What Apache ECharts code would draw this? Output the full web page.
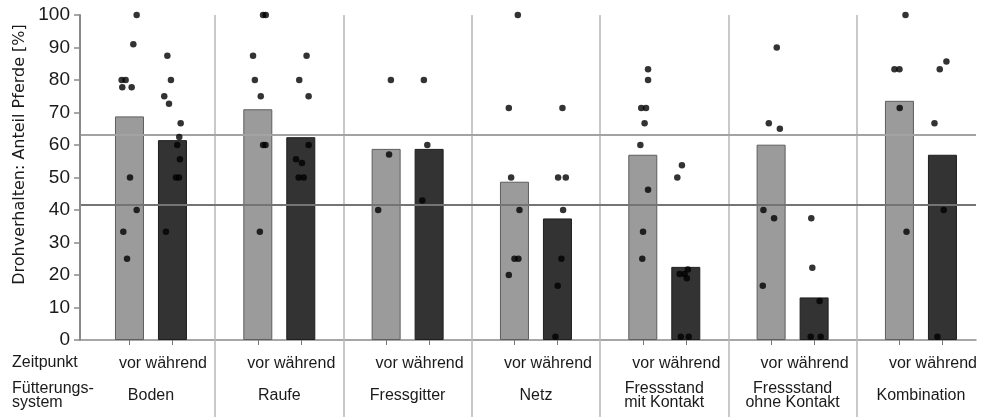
<!DOCTYPE html>
<html>
<head>
<meta charset="utf-8">
<script src="https://cdn.jsdelivr.net/npm/echarts@6/dist/echarts.min.js"></script>
<style>
  html, body { margin: 0; padding: 0; background: #ffffff; }
  #chart { width: 983px; height: 417px; }
</style>
</head>
<body>
<div id="chart"></div>
<script>
// Feeding systems (Fütterungssystem) and observation periods (Zeitpunkt)
const systems = ['Boden', 'Raufe', 'Fressgitter', 'Netz', 'Fressstand\nmit Kontakt', 'Fressstand\nohne Kontakt', 'Kombination'];
const periods = ['vor', 'während'];

// Mean share of horses showing threatening behaviour [%]
const meanVor      = [68.8, 71.0, 58.8, 48.7, 57.0, 60.1, 73.6];
const meanWaehrend = [61.5, 62.4, 58.8, 37.4, 22.5, 13.1, 57.0];

// Overall reference levels [%]
const overallLevels = [63.1, 41.7];

// Single stables, share of horses [%]
const stablesVor = [
  [100, 91, 80, 80, 77.8, 77.8, 50, 40, 33.3, 25],
  [100, 100, 87.5, 80, 75, 60, 60, 33.3],
  [80, 57.1, 40],
  [100, 71.4, 50, 40, 25, 25, 20],
  [83.3, 80, 71.4, 71.4, 66.7, 60, 46.2, 33.3, 25],
  [90, 66.7, 65, 40, 37.5, 16.7],
  [100, 83.3, 83.3, 71.4, 33.3]
];
const stablesWaehrend = [
  [87.5, 80, 75, 72.7, 66.7, 62.5, 60, 55.6, 50, 50, 33.3],
  [87.5, 80, 75, 60, 55.6, 54.5, 50, 50],
  [80, 60, 42.9],
  [71.4, 50, 50, 40, 25, 16.7, 1],
  [53.8, 50, 21.7, 20.3, 20.3, 19, 1, 1],
  [37.5, 22.2, 12, 1, 1],
  [85.7, 83.3, 66.7, 40, 1]
];

// Sideways spread of the stable dots around their bar (hundredths of a group)
const spreadVor = [
  [5.6, 3.0, -6.1, -3.0, -5.6, 1.7, 0.4, 5.6, -4.8, -1.9],
  [4.1, 6.2, -3.7, -2.3, 2.3, 4.1, 6.0, 1.6],
  [3.7, 2.3, -6.2],
  [2.6, -4.4, -2.6, 3.9, 0, 3.1, -4.4],
  [4.1, 4.1, -1.2, 2.5, 1.4, -1.9, 4.1, 0.2, -0.4],
  [4.4, -1.8, 6.8, -6.0, 2.3, -6.5],
  [4.7, -3.9, 0, 0.2, 5.5]
];
const spreadWaehrend = [
  [-4.0, -1.2, -6.4, -2.7, 6.4, 5.3, 3.7, 5.8, 2.7, 5.1, -5.1],
  [4.5, -1.2, 6.1, 6.1, -3.7, 0.9, -1.7, 2.2],
  [-4.1, -1.4, -5.3],
  [3.9, 0.5, 6.5, 4.4, 3.1, 0.2, -1.6],
  [-3.0, -6.6, 1.6, -4.8, -0.9, 0.8, -3.9, 2.3],
  [-2.2, -1.4, 4.3, -2.7, 5.1],
  [3.1, -2.1, -6.2, 1.0, -3.9]
];

// Layout along the x axis: one unit per feeding system
const X_MIN = -0.553, X_MAX = 6.429;
const BAR_SHIFT = 0.1675;           // bar centre distance from group centre
const groupIdx = systems.map((_, i) => i);
const barCentres = [];
groupIdx.forEach(i => { barCentres.push(i - BAR_SHIFT, i + BAR_SHIFT); });
const separators = groupIdx.slice(1).map(i => i - 0.5);

const FONT = 'Liberation Sans, Arial, sans-serif';
const TEXT = '#1a1a1a';
const AXIS = '#8a8a8a';

function dots(stables, spread, sign) {
  const out = [];
  stables.forEach((list, g) => {
    list.forEach((v, k) => out.push([g + sign * BAR_SHIFT + spread[g][k] / 100, v]));
  });
  return out;
}

const baseX = { type: 'value', min: X_MIN, max: X_MAX, position: 'bottom', offset: 0,
  splitLine: { show: false }, axisLine: { show: false, onZero: false },
  axisTick: { show: false }, axisLabel: { show: false } };

const chart = echarts.init(document.getElementById('chart'));
chart.setOption({
  animation: false,
  grid: { left: 80, right: 7, top: 15, bottom: 77, containLabel: false },
  xAxis: [
    Object.assign({}, baseX, {
      axisLine: { show: true, onZero: false, lineStyle: { color: AXIS, width: 1.5 } },
      axisTick: { show: true, customValues: barCentres, length: 5, lineStyle: { color: '#777', width: 1 } },
      axisLabel: { show: true, customValues: groupIdx, formatter: () => periods.join(' '),
        margin: 16, padding: [0, 0, 0, 24], fontSize: 16, fontFamily: FONT, color: TEXT }
    }),
    Object.assign({}, baseX, {
      axisLabel: { show: true, customValues: groupIdx, formatter: v => systems[Math.round(v)],
        margin: 56, verticalAlign: 'middle', lineHeight: 14, fontSize: 16, fontFamily: FONT, color: TEXT }
    }),
    Object.assign({}, baseX, {
      axisTick: { show: true, customValues: separators, inside: true, length: 325,
        lineStyle: { color: '#b8b8b8', width: 1.5 } }
    }),
    Object.assign({}, baseX, {
      axisTick: { show: true, customValues: separators, inside: false, length: 77,
        lineStyle: { color: '#b8b8b8', width: 1.5 } }
    })
  ],
  yAxis: {
    type: 'value', min: 0, max: 100, interval: 10, position: 'left', z: 10,
    name: 'Drohverhalten: Anteil Pferde [%]',
    nameLocation: 'middle', nameGap: 52,
    nameTextStyle: { fontSize: 16, fontFamily: 'DejaVu Sans, sans-serif', color: TEXT, padding: [0, 0, 0, 46] },
    axisLine: { show: true, onZero: false, lineStyle: { color: AXIS, width: 2 } },
    axisTick: { show: true, length: 6, lineStyle: { color: AXIS, width: 1.5 } },
    axisLabel: { fontSize: 19, fontFamily: FONT, color: TEXT, margin: 10 },
    splitLine: { show: false }
  },
  graphic: [
    { type: 'text', x: 12, y: 363, style: { text: 'Zeitpunkt', font: '16px ' + FONT, fill: TEXT, verticalAlign: 'middle' } },
    { type: 'text', x: 12, y: 396, style: { text: 'Fütterungs-\nsystem', font: '16px ' + FONT, lineHeight: 14, fill: TEXT, verticalAlign: 'middle' } }
  ],
  series: [
    {
      name: periods[0], type: 'bar', xAxisIndex: 0, barWidth: 29, barGap: '-100%', z: 2,
      itemStyle: { color: '#9b9b9b', borderColor: '#5e5e5e', borderWidth: 1 },
      data: groupIdx.map(i => [i - BAR_SHIFT, meanVor[i]])
    },
    {
      name: periods[1], type: 'bar', xAxisIndex: 0, barWidth: 29, barGap: '-100%', z: 2,
      itemStyle: { color: '#333333', borderColor: '#1e1e1e', borderWidth: 1 },
      data: groupIdx.map(i => [i + BAR_SHIFT, meanWaehrend[i]])
    },
    {
      name: 'Mittel', type: 'line', xAxisIndex: 0, data: [], z: 3, silent: true,
      markLine: {
        silent: true, symbol: ['none', 'none'], label: { show: false },
        data: overallLevels.map((v, i) => ({ yAxis: v,
          lineStyle: { type: 'solid', width: 2, color: i === 0 ? '#a3a3a3' : '#747474' } }))
      }
    },
    {
      name: 'Betriebe ' + periods[0], type: 'scatter', xAxisIndex: 0, z: 5,
      symbolSize: 6.5, itemStyle: { color: '#000000' },
      data: dots(stablesVor, spreadVor, -1)
    },
    {
      name: 'Betriebe ' + periods[1], type: 'scatter', xAxisIndex: 0, z: 5,
      symbolSize: 6.5, itemStyle: { color: '#000000' },
      data: dots(stablesWaehrend, spreadWaehrend, 1)
    }
  ]
});
</script>
</body>
</html>
